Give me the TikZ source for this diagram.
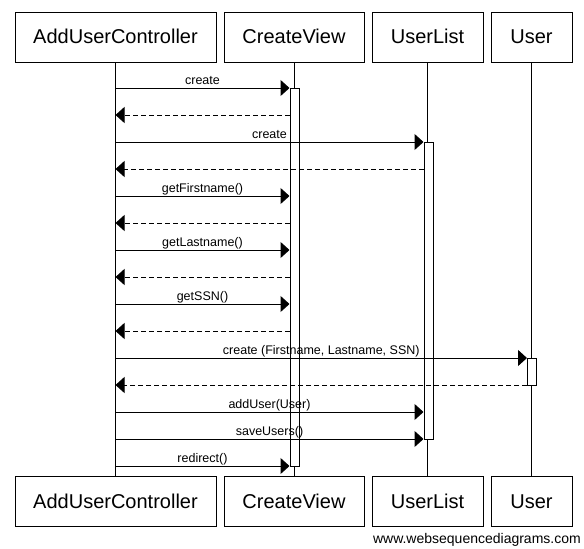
\documentclass[tikz,border=0pt]{standalone}
\usepackage{fontspec}
\setmainfont{Liberation Sans}
\usetikzlibrary{arrows.meta}
\begin{document}
\begin{tikzpicture}[x=1pt,y=-1pt,
  head/.style={draw, line width=1pt, fill=white, minimum height=50pt, inner sep=0pt, text height=15pt, text depth=2pt, font=\fontsize{20}{24}\selectfont},
  act/.style={draw, line width=1pt, fill=white, minimum width=9pt, inner sep=0pt},
  life/.style={line width=1pt},
  msg/.style={line width=1pt, -{Triangle[length=9pt,width=16pt]}},
  ret/.style={msg, dash pattern=on 5pt off 3pt},
  lbl/.style={anchor=base, yshift=3.5pt, font=\fontsize{12.5}{14}\selectfont, inner sep=0pt}]
\useasboundingbox (0,0) rectangle (584,549);
% heads
\node[head, minimum width=201pt] (AUC) at (115.5,37) {AddUserController};
\node[head, minimum width=140pt] (CV) at (294,37) {CreateView};
\node[head, minimum width=111pt] (UL) at (427.5,37) {UserList};
\node[head, minimum width=81pt] (U) at (531.5,37) {User};
\node[head, minimum width=201pt] (AUCb) at (115.5,501.5) {AddUserController};
\node[head, minimum width=140pt] (CVb) at (294,501.5) {CreateView};
\node[head, minimum width=111pt] (ULb) at (427.5,501.5) {UserList};
\node[head, minimum width=81pt] (Ub) at (531.5,501.5) {User};
% lifelines
\draw[life] (AUC.south) -- (AUCb.north);
\draw[life] (CV.south) -- (CVb.north);
\draw[life] (UL.south) -- (ULb.north);
\draw[life] (U.south) -- (Ub.north);
% activations
\node[act, minimum height=378pt] (aCV) at (294.5,277) {};
\node[act, minimum height=297pt] (aUL) at (428.5,290.5) {};
\node[act, minimum height=27pt] (aU) at (532,371.5) {};
% messages
\draw[msg] (AUC.south |- 0,88) -- (aCV.west |- 0,88) node[lbl, midway] {create};
\draw[ret] (aCV.west |- 0,115) -- (AUC.south |- 0,115);
\draw[msg] (AUC.south |- 0,142) -- (aUL.west |- 0,142) node[lbl, midway] {create};
\draw[ret] (aUL.west |- 0,169) -- (AUC.south |- 0,169);
\draw[msg] (AUC.south |- 0,196) -- (aCV.west |- 0,196) node[lbl, midway] {getFirstname()};
\draw[ret] (aCV.west |- 0,223) -- (AUC.south |- 0,223);
\draw[msg] (AUC.south |- 0,250) -- (aCV.west |- 0,250) node[lbl, midway] {getLastname()};
\draw[ret] (aCV.west |- 0,277) -- (AUC.south |- 0,277);
\draw[msg] (AUC.south |- 0,304) -- (aCV.west |- 0,304) node[lbl, midway] {getSSN()};
\draw[ret] (aCV.west |- 0,331) -- (AUC.south |- 0,331);
\draw[msg] (AUC.south |- 0,358) -- (aU.west |- 0,358) node[lbl, midway] {create (Firstname, Lastname, SSN)};
\draw[ret] (aU.west |- 0,385) -- (AUC.south |- 0,385);
\draw[msg] (AUC.south |- 0,412) -- (aUL.west |- 0,412) node[lbl, midway] {addUser(User)};
\draw[msg] (AUC.south |- 0,439) -- (aUL.west |- 0,439) node[lbl, midway] {saveUsers()};
\draw[msg] (AUC.south |- 0,466) -- (aCV.west |- 0,466) node[lbl, midway] {redirect()};
% footer
\node[anchor=base east, font=\fontsize{14}{16}\selectfont, inner sep=0pt] (wsd) at (581,543) {www.websequencediagrams.com};
\end{tikzpicture}
\end{document}
